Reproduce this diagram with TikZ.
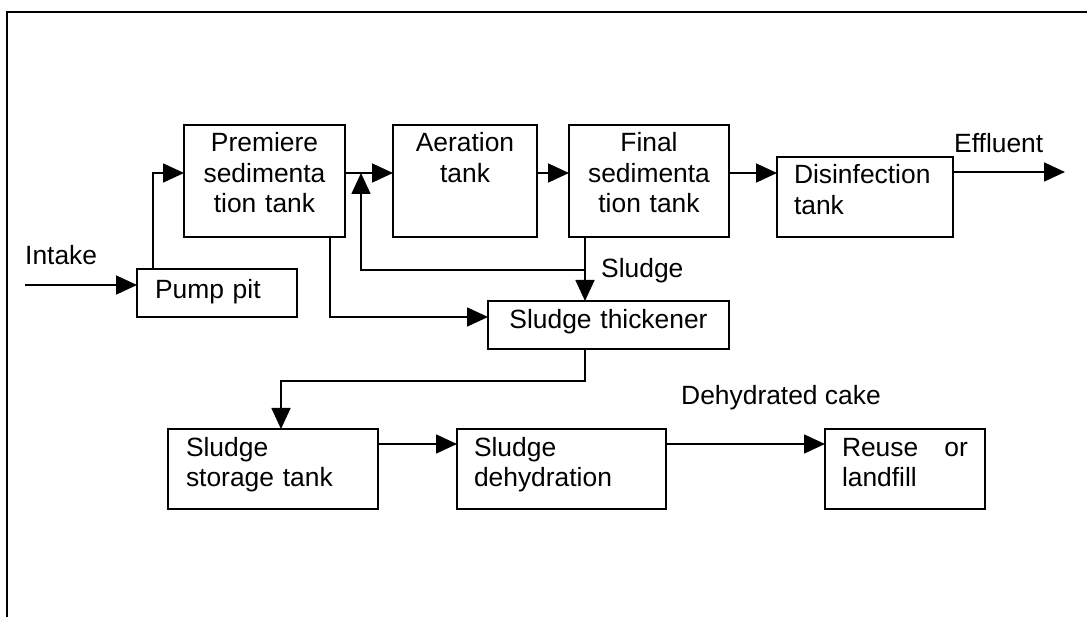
\documentclass[tikz,border=0pt]{standalone}
\usepackage{fontspec}
\setmainfont{Liberation Sans}
\usepackage{tikz}
\usetikzlibrary{arrows.meta, positioning}

\begin{document}
\begin{tikzpicture}[x=1pt, y=-1pt,
  font=\fontsize{26.4}{30.4}\selectfont,
  tank/.style={rectangle, draw, line width=1.7pt, outer sep=0pt, inner ysep=0pt, text height=27pt},
  lbl/.style={inner sep=0pt, anchor=west},
  arrow/.style={-{Triangle[length=21pt,width=19pt]}, line width=1.7pt}]

\useasboundingbox (0,0) rectangle (1087,617);
\draw[line width=2.2pt] (7,617) -- (7,12) -- (1087,12);

\node[tank, anchor=north west, inner xsep=8pt, text width=145pt, text depth=85pt, align=center] (premiere) at (184,125) {Premiere\\sedimenta\\tion tank};
\node[tank, right=48pt of premiere, inner xsep=8pt, text width=128pt, text depth=85pt, align=center] (aeration) {Aeration\\tank};
\node[tank, right=32pt of aeration, inner xsep=8pt, text width=144pt, text depth=85pt, align=center] (final) {Final\\sedimenta\\tion tank};
\node[tank, right=48pt of final.south east, anchor=south west, inner xsep=17pt, text width=142pt, text depth=53pt, align=left] (disinf) {Disinfection\\tank};

\node[tank, anchor=north west, inner xsep=18pt, text width=124pt, text height=30pt, text depth=18pt, align=left] (pump) at (137,269) {Pump pit};
\node[tank, anchor=north west, inner xsep=10pt, text width=221pt, text height=28pt, text depth=20pt, align=center] (thickener) at (488,301) {Sludge thickener};

\node[tank, anchor=north west, inner xsep=18pt, text width=174pt, text depth=53pt, align=left] (storage) at (168,429) {Sludge\\storage tank};
\node[tank, right=79pt of storage, inner xsep=17pt, text width=175pt, text depth=53pt, align=left] (dehydr) {Sludge\\dehydration};
\node[tank, right=159pt of dehydr, inner xsep=17pt, text width=126pt, text depth=53pt, align=left] (reuse) {Reuse\hfill or\\landfill};

\node[lbl] (intakelbl) at (25,255) {Intake};
\node[lbl] (effluentlbl) at (954,143) {Effluent};
\node[lbl] (sludgelbl) at (601,271) {Sludge};
\node[lbl] (cakelbl) at (681,398) {Dehydrated cake};

\coordinate (intake) at (25,285);
\coordinate (effluent) at (1065,172);
\coordinate (split) at (585,270);

\draw[arrow] (intake) -- (intake -| pump.west);
\draw[arrow] ([xshift=16pt]pump.north west) |- ([yshift=8pt]premiere.west);
\draw[arrow] ([yshift=8pt]premiere.east) -- ([yshift=8pt]aeration.west);
\draw[arrow] ([yshift=8pt]aeration.east) -- ([yshift=8pt]final.west);
\draw[arrow] ([yshift=8pt]final.east) -- ([yshift=8pt]final.east -| disinf.west);
\draw[arrow] (effluent -| disinf.east) -- (effluent);

\draw[arrow] ([xshift=16pt]final.south west) -- ([xshift=16pt]final.south west |- thickener.north);
\draw[arrow] (split) -| ([xshift=16pt, yshift=8pt]premiere.east);
\draw[arrow] ([xshift=-15pt]premiere.south east) |- ([yshift=8pt]thickener.west);

\draw[arrow] ([xshift=97pt]thickener.south west) -- ++(0,-32pt) -| ([xshift=113pt]storage.north west);
\draw[arrow] ([yshift=25pt]storage.east) -- ([yshift=25pt]dehydr.west);
\draw[arrow] ([yshift=25pt]dehydr.east) -- ([yshift=25pt]reuse.west);
\end{tikzpicture}
\end{document}
